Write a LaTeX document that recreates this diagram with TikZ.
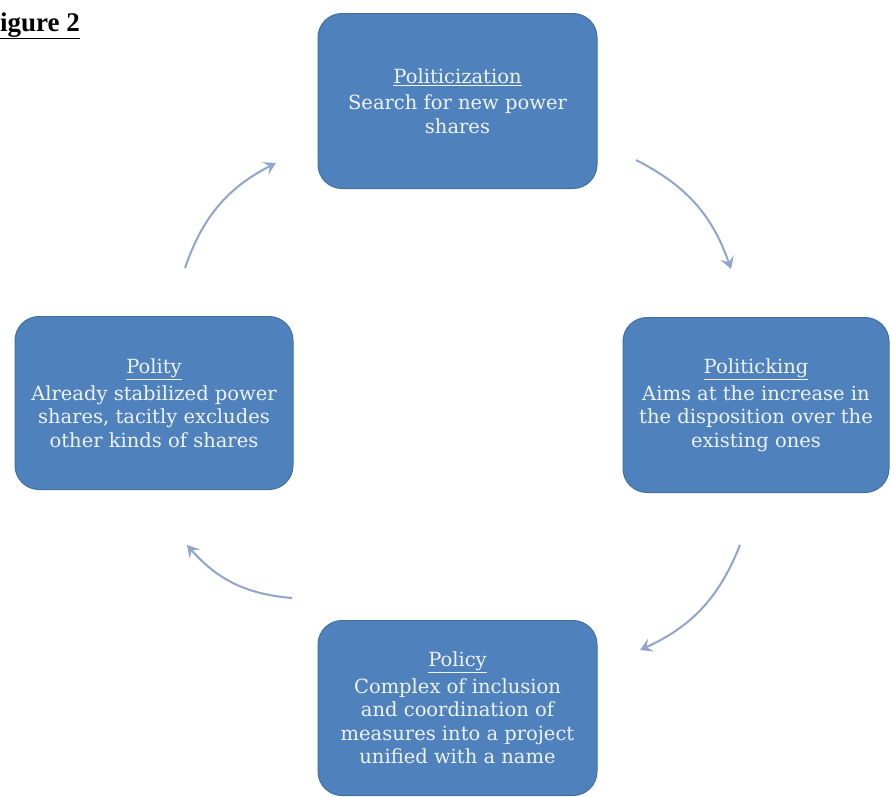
\documentclass[tikz,border=0pt]{standalone}
\usepackage{fontspec}
\setmainfont{Liberation Serif}
\newfontfamily\boxfont{DejaVu Serif}
\usetikzlibrary{arrows.meta}
\definecolor{boxblue}{HTML}{4F81BD}
\definecolor{boxedge}{HTML}{41719C}
\definecolor{arrowc}{HTML}{8FA5CB}
\definecolor{txtc}{HTML}{EEF3FA}
\begin{document}
\begin{tikzpicture}[x=1pt,y=-1pt,
  stagebox/.style={draw=boxedge, line width=1pt, fill=boxblue, rounded corners=24pt,
    minimum width=279pt, minimum height=175pt, inner sep=0pt, text=txtc, align=center,
    font=\boxfont\fontsize{19.5}{23.5}\selectfont},
  cyclearrow/.style={draw=arrowc, line width=2pt, -{Stealth[length=12pt,width=14pt,inset=5pt]}, bend left=22}]
\useasboundingbox (0,0) rectangle (891,796);
\fill[white] (0,0) rectangle (891,796);
\node[anchor=base west, font=\bfseries\fontsize{27}{30}\selectfont, inner sep=0pt] (fig) at (-16.5,31) {\underline{Figure 2}};
\node[stagebox] (top) at (457.5,101) {\underline{Politicization}\\[3pt]Search for new power\\shares};
\node[stagebox, minimum width=266pt] (right) at (756,405) {\underline{Politicking}\\[3pt]Aims at the increase in\\the disposition over the\\existing ones};
\node[stagebox, minimum width=278pt, minimum height=173pt] (left) at (154,403) {\underline{Polity}\\[3pt]Already stabilized power\\shares, tacitly excludes\\other kinds of shares};
\node[stagebox] (bottom) at (457.5,708) {\underline{Policy}\\[3pt]Complex of inclusion\\and coordination of\\measures into a project\\unified with a name};
\coordinate (a1s) at (636,160);
\coordinate (a1e) at (731,269);
\coordinate (a2s) at (740,545);
\coordinate (a2e) at (640,650);
\coordinate (a3s) at (292,598);
\coordinate (a3e) at (187,545);
\coordinate (a4s) at (185,268);
\coordinate (a4e) at (276,163);
\draw[cyclearrow] (a1s) to (a1e);
\draw[cyclearrow] (a2s) to (a2e);
\draw[cyclearrow] (a3s) to (a3e);
\draw[cyclearrow] (a4s) to (a4e);
\end{tikzpicture}
\end{document}
